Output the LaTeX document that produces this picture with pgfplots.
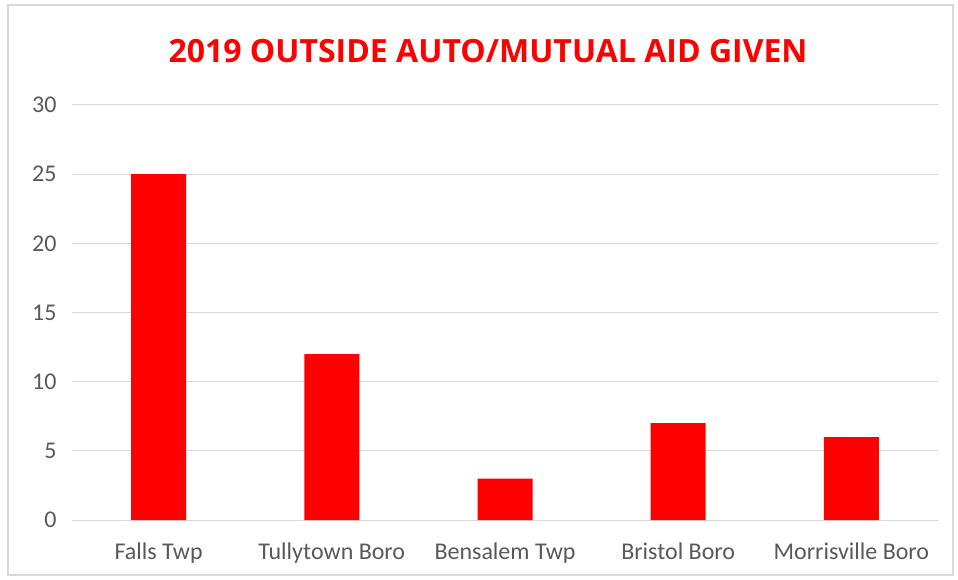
\documentclass[border=0pt]{standalone}
\usepackage{pgfplots}
\pgfplotsset{compat=1.18}
\usepackage{fontspec}
\setmainfont{Carlito}
\newfontfamily\titlefont{Open Sans}
\definecolor{gridgray}{HTML}{D9D9D9}
\definecolor{ticktext}{HTML}{595959}
\begin{document}
\begin{tikzpicture}[x=1pt,y=1pt]
\path[use as bounding box] (0,0) rectangle (958,579);
\draw[gridgray, line width=1.2pt] (8,4) rectangle (953,574);
\node[text=red, font=\titlefont\bfseries\fontsize{32}{38}\selectfont] at (488,528) {2019 OUTSIDE AUTO/MUTUAL AID GIVEN};
\begin{axis}[
  at={(72pt,59pt)}, anchor=south west,
  width=866pt, height=415pt, scale only axis,
  xmin=-0.5, xmax=4.5, ymin=0, ymax=30,
  ytick={0,5,...,30},
  yticklabels={0,5,10,15,20,25,30},
  xtick=data,
  xticklabels={Falls Twp, Tullytown Boro, Bensalem Twp, Bristol Boro, Morrisville Boro},
  axis line style={draw=none},
  major tick length=0pt,
  ymajorgrids,
  grid style={gridgray, line width=1pt},
  tick label style={text=ticktext, font=\fontsize{24}{28}\selectfont},
  yticklabel style={xshift=-12pt},
  xticklabel style={yshift=-19pt},
  ybar, bar width=55pt,
]
\addplot[fill=red, draw=none] coordinates {(0,25) (1,12) (2,3) (3,7) (4,6)};
\end{axis}
\end{tikzpicture}
\end{document}
